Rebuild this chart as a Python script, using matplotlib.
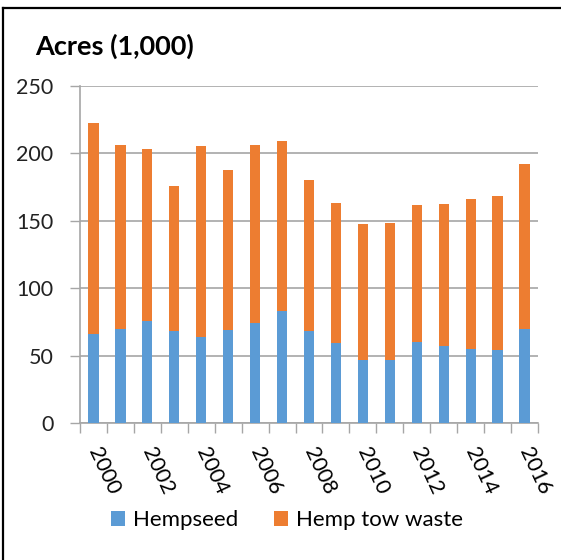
import numpy as np
import matplotlib
matplotlib.use("Agg")
import matplotlib.pyplot as plt
from matplotlib.lines import Line2D

# Hemp acreage (1,000 acres)
years = list(range(2000, 2017))
hempseed = [66, 70, 76, 68, 64, 69, 74, 83, 68, 59, 47, 47, 60, 57, 55, 54, 70]
tow_waste = [156.5, 136.5, 127.5, 108, 141.5, 119, 132.5, 126, 112.5, 104.5, 100.5, 101.5, 101.5, 105.5, 111.5, 114.5, 122]
y_ticks = [0, 50, 100, 150, 200, 250]

plt.rcParams['font.family'] = ['Lato', 'DejaVu Sans']

fig = plt.figure(figsize=(5.61, 5.60), dpi=100)
W, H = 561, 560
ax = fig.add_axes([80 / W, 1 - 423 / H, (538 - 80) / W, (423 - 86) / H])

x = np.arange(len(years))
ax.bar(x, hempseed, width=0.38, color='#5B9BD5', label='Hempseed', zorder=3)
ax.bar(x, tow_waste, width=0.38, bottom=hempseed, color='#ED7D31',
       label='Hemp tow waste', zorder=3)

ax.set_xlim(-0.5, len(years) - 0.5)
ax.set_ylim(0, 250)
ax.set_yticks(y_ticks)
ax.tick_params(axis='y', length=7, width=1, color='#a6a6a6', labelsize=15.5,
               pad=12, labelcolor='#222222')
ax.yaxis.grid(True, color='#a6a6a6', linewidth=1.2, zorder=0)

# category boundaries get the tick marks, even years get the labels
ax.set_xticks(np.arange(len(years) + 1) - 0.5)
ax.set_xticklabels([])
ax.tick_params(axis='x', which='major', length=7, width=1, color='#a6a6a6')
even = [i for i, y in enumerate(years) if y % 2 == 0]
ax.set_xticks(even, minor=True)
ax.set_xticklabels([str(years[i]) for i in even], minor=True, rotation=-65,
                   rotation_mode='anchor', ha='left', va='center', fontsize=15.5)
ax.tick_params(axis='x', which='minor', length=0, pad=18)

for side in ['top', 'right']:
    ax.spines[side].set_visible(False)
for side in ['left', 'bottom']:
    ax.spines[side].set_color('#a6a6a6')
    ax.spines[side].set_linewidth(1.2)

fig.text(35 / W, 1 - 46 / H, 'Acres (1,000)', fontsize=19.5, fontweight='bold',
         va='center', ha='left')

fig.legend(loc='center', bbox_to_anchor=(287 / W, 1 - 520 / H), ncol=2,
           frameon=False, fontsize=16, handlelength=0.65, handleheight=0.65,
           columnspacing=1.6, handletextpad=0.35)

# chart border (left and top edges visible in the reference)
fig.add_artist(Line2D([3 / W, 3 / W], [0, 1 - 8 / H], color='black', lw=1.6,
                      transform=fig.transFigure))
fig.add_artist(Line2D([3 / W, 1], [1 - 8 / H, 1 - 8 / H], color='black', lw=1.6,
                      transform=fig.transFigure))

fig.savefig('out.png', dpi=100)
